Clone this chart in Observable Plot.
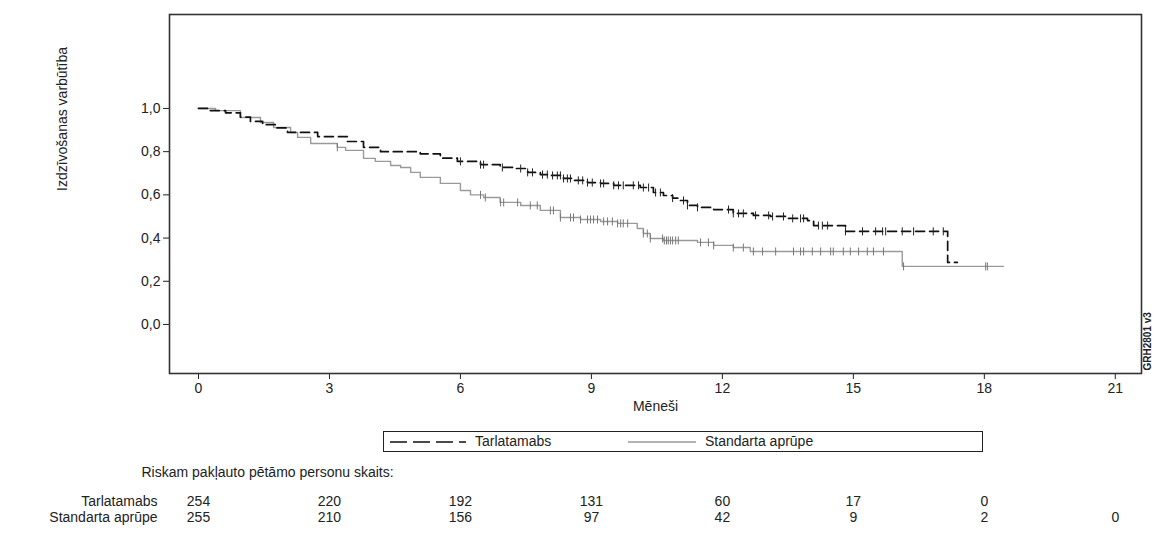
<!DOCTYPE html>
<html><head><meta charset="utf-8">
<script src="https://cdn.jsdelivr.net/npm/d3@7"></script>
<script src="https://cdn.jsdelivr.net/npm/@observablehq/plot@0.6"></script>
<style>
body{margin:0;background:#fff;font-family:"Liberation Sans",Arial,sans-serif;}
#wrap{position:relative;width:1156px;height:539px;overflow:hidden;}
#legend{position:absolute;left:383px;top:431px;width:600px;height:21px;border:1.5px solid #222;box-sizing:border-box;font-size:14px;color:#222;}
#legend .item{position:absolute;top:0;height:18px;line-height:18px;white-space:nowrap;}
#legend svg{vertical-align:middle;}
</style></head>
<body><div id="wrap"></div>
<script>
// Kaplan-Meier step data (months, survival probability)
const tarTimes = [0, 0.27, 0.62, 0.96, 1.19, 1.47, 1.76, 2.04, 2.73, 3.41, 3.78, 4.17, 5.08, 5.54, 5.93, 6.46, 6.91, 7.21, 7.54, 7.83, 8.06, 8.36, 8.59, 8.91, 9.21, 9.51, 10.12, 10.42, 10.65, 10.86, 11.04, 11.20, 11.43, 11.80, 12.25, 12.71, 13.10, 13.49, 13.95, 14.09, 14.82, 17.16, 17.38];
const tarSurv  = [1.0, 0.99, 0.98, 0.96, 0.94, 0.925, 0.91, 0.889, 0.87, 0.847, 0.82, 0.80, 0.79, 0.77, 0.755, 0.74, 0.727, 0.722, 0.704, 0.694, 0.69, 0.676, 0.667, 0.657, 0.653, 0.644, 0.634, 0.611, 0.597, 0.585, 0.574, 0.551, 0.542, 0.532, 0.514, 0.505, 0.50, 0.491, 0.481, 0.458, 0.431, 0.287, 0.287];
const stdTimes = [0, 0.39, 0.96, 1.42, 1.72, 2.11, 2.27, 2.57, 3.18, 3.37, 3.78, 4.05, 4.40, 4.63, 4.86, 5.08, 5.54, 6.00, 6.23, 6.53, 6.91, 7.38, 7.83, 8.29, 8.75, 9.21, 9.60, 10.05, 10.19, 10.35, 10.65, 11.43, 11.80, 12.25, 12.64, 16.12, 18.44];
const stdSurv  = [1.0, 0.99, 0.958, 0.935, 0.912, 0.889, 0.866, 0.838, 0.82, 0.806, 0.769, 0.755, 0.736, 0.727, 0.704, 0.681, 0.653, 0.62, 0.60, 0.588, 0.565, 0.551, 0.528, 0.495, 0.486, 0.477, 0.468, 0.444, 0.421, 0.398, 0.389, 0.38, 0.366, 0.356, 0.338, 0.269, 0.269];
// censoring times (months)
const tarCensor = [6.00, 6.46, 6.53, 6.96, 7.38, 7.54, 7.65, 7.88, 7.99, 8.11, 8.22, 8.29, 8.36, 8.45, 8.52, 8.70, 8.80, 8.91, 9.02, 9.21, 9.28, 9.51, 9.62, 9.73, 9.96, 10.08, 10.19, 10.31, 10.47, 10.58, 10.86, 11.11, 11.20, 11.43, 12.14, 12.25, 12.37, 12.48, 12.76, 13.06, 13.15, 13.40, 13.61, 13.79, 13.86, 14.20, 14.29, 14.41, 14.82, 15.21, 15.51, 15.67, 15.74, 16.12, 16.38, 16.83, 17.06];
const stdCensor = [3.18, 6.46, 6.57, 6.92, 6.99, 7.31, 7.60, 7.76, 8.06, 8.13, 8.29, 8.52, 8.59, 8.75, 8.91, 8.98, 9.05, 9.14, 9.28, 9.37, 9.48, 9.60, 9.67, 9.73, 9.83, 10.19, 10.28, 10.35, 10.63, 10.67, 10.72, 10.76, 10.81, 10.86, 10.93, 10.99, 11.50, 11.68, 11.80, 12.25, 12.48, 12.71, 12.92, 13.22, 13.63, 13.79, 13.86, 14.06, 14.25, 14.48, 14.54, 14.77, 14.93, 15.12, 15.32, 15.46, 15.69, 16.15, 18.03, 18.07];
// numbers at risk
const riskMonths = [0, 3, 6, 9, 12, 15, 18, 21];
const tarRisk = [254, 220, 192, 131, 60, 17, 0];
const stdRisk = [255, 210, 156, 97, 42, 9, 2, 0];
const xTicks = [0, 3, 6, 9, 12, 15, 18, 21];
const yTicks = [0, 0.2, 0.4, 0.6, 0.8, 1.0];
const groupNames = ["Tarlatamabs", "Standarta aprūpe"];

const toRows = (ts, ss) => ts.map((t, i) => ({t, s: ss[i]}));
const tarData = toRows(tarTimes, tarSurv);
const stdData = toRows(stdTimes, stdSurv);
function survAt(ts, ss, t) { let v = ss[0]; for (let i = 0; i < ts.length; i++) { if (ts[i] <= t) v = ss[i]; } return v; }
const tarC = tarCensor.map(t => ({t, s: survAt(tarTimes, tarSurv, t)}));
const stdC = stdCensor.map(t => ({t, s: survAt(stdTimes, stdSurv, t)}));
const tarR = tarRisk.map((n, i) => ({m: riskMonths[i], n}));
const stdR = stdRisk.map((n, i) => ({m: riskMonths[i], n}));

const vtick = {draw(ctx, size) { const r = Math.sqrt(size / Math.PI); ctx.moveTo(0, -r); ctx.lineTo(0, r); }};
const font = "Liberation Sans, Arial, sans-serif";

const plot = Plot.plot({
  width: 1156, height: 539,
  marginLeft: 169, marginRight: 15, marginTop: 14, marginBottom: 166,
  style: {fontFamily: font, fontSize: "14px", color: "#222", background: "white", overflow: "visible"},
  x: {domain: [-0.664, 21.6], ticks: xTicks, tickFormat: d => String(d), tickSize: 6, tickPadding: 4, label: null},
  y: {domain: [-0.227, 1.435], ticks: yTicks, tickFormat: d => d.toFixed(1).replace(".", ","), tickSize: 6, tickPadding: 3, label: null},
  marks: [
    Plot.frame({stroke: "#333", strokeWidth: 1.6}),
    Plot.line(stdData, {x: "t", y: "s", curve: "step-after", stroke: "#9a9a9a", strokeWidth: 1.4}),
    Plot.dot(stdC, {x: "t", y: "s", symbol: vtick, r: 4, stroke: "#777", strokeWidth: 1}),
    Plot.line(tarData, {x: "t", y: "s", curve: "step-after", stroke: "#111", strokeWidth: 1.7, strokeDasharray: "9,5"}),
    Plot.dot(tarC, {x: "t", y: "s", symbol: vtick, r: 4, stroke: "#222", strokeWidth: 1}),
    Plot.text(["Izdzīvošanas varbūtība"], {text: d => d, frameAnchor: "left", rotate: -90, dx: -107, dy: -3, fontSize: 14}),
    Plot.text(["Mēneši"], {text: d => d, frameAnchor: "bottom", dy: 37, fontSize: 14}),
    Plot.text(["GRH2801 v3"], {text: d => d, frameAnchor: "bottom-right", rotate: -90, textAnchor: "start", dx: 9, dy: -3, fontSize: 10, fontWeight: "bold"}),
    Plot.text(["Riskam pakļauto pētāmo personu skaits:"], {text: d => d, frameAnchor: "bottom-left", textAnchor: "start", dx: -28, dy: 103, fontSize: 14}),
    Plot.text([groupNames[0]], {text: d => d, frameAnchor: "bottom-left", textAnchor: "end", dx: -12, dy: 132, fontSize: 14}),
    Plot.text([groupNames[1]], {text: d => d, frameAnchor: "bottom-left", textAnchor: "end", dx: -12, dy: 148, fontSize: 14}),
    Plot.text(tarR, {x: "m", text: "n", frameAnchor: "bottom", dy: 132, fontSize: 14}),
    Plot.text(stdR, {x: "m", text: "n", frameAnchor: "bottom", dy: 148, fontSize: 14})
  ]
});
const wrap = document.getElementById("wrap");
wrap.appendChild(plot);

const legend = document.createElement("div");
legend.id = "legend";
legend.innerHTML =
  `<div class="item" style="left:6px"><svg width="76" height="10"><line x1="0" y1="5" x2="76" y2="5" stroke="#111" stroke-width="1.7" stroke-dasharray="17,6"/></svg></div>` +
  `<div class="item" style="left:91px">${groupNames[0]}</div>` +
  `<div class="item" style="left:244px"><svg width="68" height="10"><line x1="0" y1="5" x2="68" y2="5" stroke="#9a9a9a" stroke-width="1.4"/></svg></div>` +
  `<div class="item" style="left:321px">${groupNames[1]}</div>`;
wrap.appendChild(legend);
</script>
</body></html>
